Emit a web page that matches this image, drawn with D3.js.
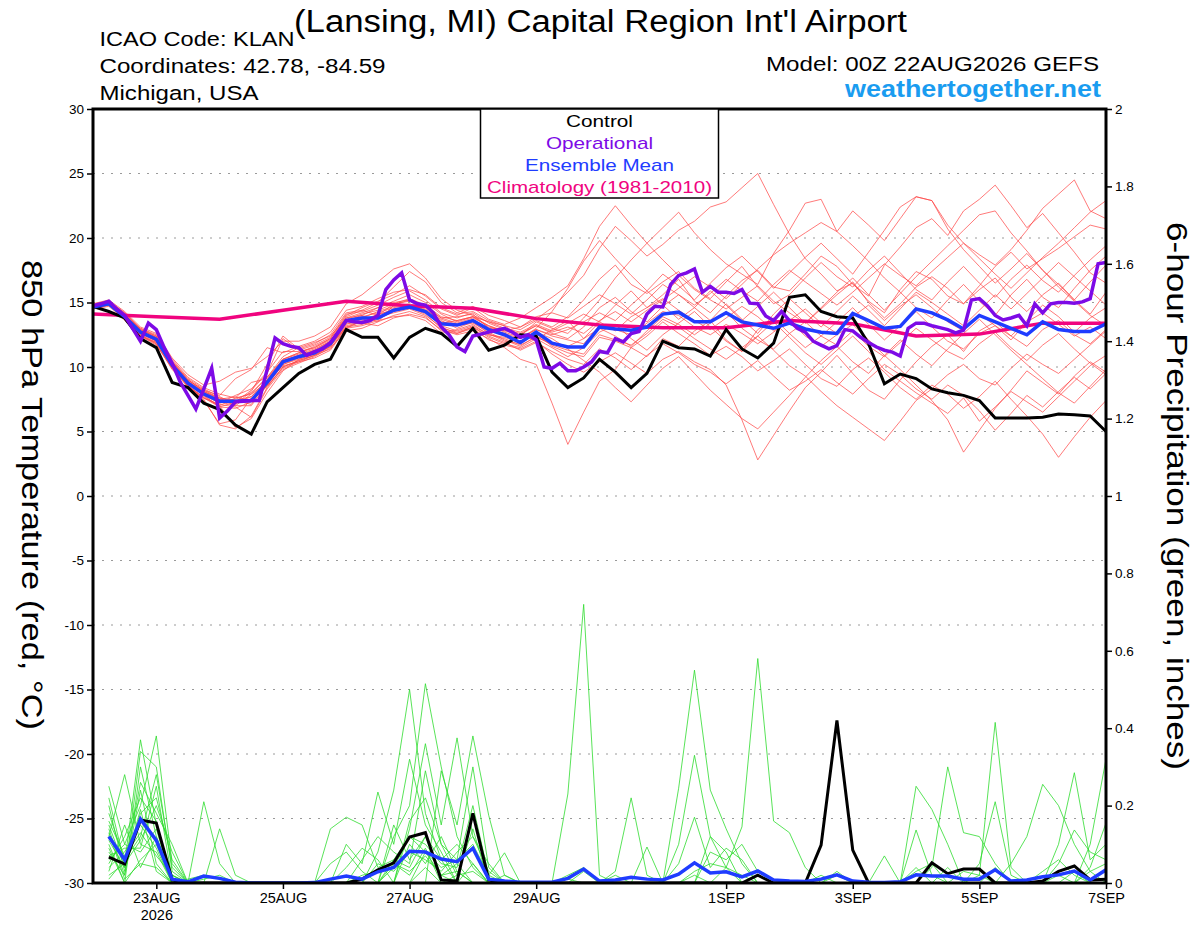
<!DOCTYPE html>
<html>
<head>
<meta charset="utf-8">
<script src="https://cdn.jsdelivr.net/npm/d3@7/dist/d3.min.js"></script>
<style>
  html, body { margin: 0; padding: 0; background: #fff; }
  svg { display: block; font-family: "Liberation Sans", Arial, Helvetica, sans-serif; }
</style>
</head>
<body>
<svg id="chart" width="1200" height="927"></svg>
<script>
// ---------------- DATA ----------------
const runStart = "2026-08-22T00:00:00Z";
const runEnd = "2026-09-07T00:00:00Z";
const tickDates = ["2026-08-23","2026-08-25","2026-08-27","2026-08-29","2026-09-01","2026-09-03","2026-09-05","2026-09-07"];
const tickLabels = ["23AUG","25AUG","27AUG","29AUG","1SEP","3SEP","5SEP","7SEP"];
const tempTicks = [-30,-25,-20,-15,-10,-5,0,5,10,15,20,25,30];
const precipTicks = [0,0.2,0.4,0.6,0.8,1,1.2,1.4,1.6,1.8,2];

// 6-hourly control 850 hPa temperature (degC), 22AUG00Z .. 7SEP00Z
const controlTemp = [14.7,14.3,13.8,12.2,11.5,8.8,8.4,7.2,6.7,5.5,4.8,7.3,8.4,9.5,10.2,10.6,12.9,12.3,12.3,10.7,12.3,13.0,12.6,11.6,13.0,11.3,11.7,12.5,12.4,9.6,8.4,9.15,10.6,9.6,8.4,9.5,12.0,11.5,11.4,10.85,12.9,11.4,10.7,11.85,15.4,15.6,14.3,13.9,13.8,11.8,8.7,9.45,9.1,8.3,8.0,7.8,7.4,6.05,6.05,6.05,6.1,6.35,6.3,6.2,5.0];

// 6-hourly ensemble mean temperature
const meanTemp = [14.65,14.9,13.9,12.7,12.15,10.15,8.75,7.9,7.35,7.35,7.4,8.8,10.4,10.8,11.1,11.8,13.6,13.8,13.8,14.4,14.65,14.3,13.35,13.25,13.6,12.9,12.5,11.9,12.7,11.85,11.55,11.55,13.1,12.95,12.85,13.1,14.1,14.25,13.5,13.5,14.2,13.5,13.25,13.0,13.4,12.95,12.7,12.6,14.15,13.6,13.0,13.15,14.5,14.2,13.65,12.95,14.0,13.5,13.0,12.5,13.5,12.9,12.75,12.75,13.35];

// 3-hourly operational temperature
const operTemp = [14.75,14.9,15.1,14.5,14.0,13.0,12.0,13.4,12.9,11.5,10.3,8.85,7.8,6.75,8.3,9.9,6.05,6.6,7.3,7.35,7.4,7.4,9.8,12.25,11.8,11.6,11.5,10.9,11.2,11.4,11.9,12.7,13.6,13.5,13.45,13.6,14.0,16.0,16.75,17.3,15.2,14.9,14.8,14.2,13.1,12.5,11.55,11.2,12.4,12.55,12.7,12.85,13.0,12.7,12.3,12.5,12.1,10.0,9.9,10.3,9.7,9.7,10.0,10.4,11.2,11.1,12.2,11.95,12.6,12.75,14.1,14.7,14.65,16.4,17.1,17.3,17.6,15.8,16.25,15.8,15.8,15.7,16.0,14.95,14.9,13.95,13.6,14.3,13.6,13.0,12.7,12.0,11.7,11.4,11.65,12.9,12.8,12.3,11.9,11.55,11.3,11.15,10.85,13.0,13.4,13.4,13.2,13.05,12.9,12.65,12.85,15.2,15.3,14.75,14.0,13.65,13.8,14.0,13.2,14.9,14.2,14.9,15.0,15.0,14.95,15.05,15.3,18.0,18.1];

// daily climatology (1981-2010), 00Z each day 22AUG .. 7SEP
const climTemp = [14.1,13.9,13.7,14.4,15.1,14.75,14.55,13.75,13.25,13.05,13.05,13.6,13.35,12.4,12.55,13.4,13.4];

// 6-hourly ensemble member temperatures
const memberTemps = [
 [14.8,15.1,14.2,12.9,12.4,10.4,9.0,8.2,7.6,7.0,7.9,9.2,10.8,11.5,11.9,12.4,13.8,14.2,14.6,15.1,15.6,15.0,14.1,13.5,13.9,13.2,12.8,13.1,13.7,14.6,15.8,17.1,19.2,20.9,19.8,18.6,19.5,20.6,21.3,22.4,22.8,23.9,25.0,22.6,20.3,18.4,17.2,15.9,16.5,15.1,14.2,16.0,17.4,16.8,15.5,14.9,16.3,17.8,18.9,17.6,18.4,19.2,20.1,21.0,20.7],
 [14.6,14.8,13.8,12.5,11.8,9.8,8.6,7.4,5.6,5.9,7.6,8.5,9.9,10.4,10.9,11.6,13.2,13.5,13.9,14.2,14.5,14.0,13.1,12.6,13.0,12.1,11.7,11.4,12.0,11.0,10.2,9.6,10.4,11.1,10.3,9.5,10.6,11.2,10.4,9.8,8.6,5.9,2.8,4.7,6.6,8.4,9.6,10.9,9.5,8.2,7.5,9.0,10.4,11.6,12.5,11.2,12.8,13.5,12.4,11.6,12.9,13.6,12.5,11.8,12.9],
 [14.7,15.0,14.0,12.8,12.0,10.0,8.8,8.0,7.2,7.8,8.3,9.6,11.2,11.2,11.5,12.1,13.6,14.0,13.5,14.8,15.2,14.6,13.8,13.9,14.1,13.0,12.9,12.4,12.1,12.9,13.6,12.2,13.5,14.8,15.9,14.6,15.6,16.8,15.1,14.2,15.5,16.7,17.5,16.2,15.9,17.2,18.6,17.8,16.4,15.5,17.9,19.3,20.8,21.5,20.2,22.1,23.0,24.1,22.5,20.8,21.9,20.4,18.9,17.3,16.5],
 [14.5,14.9,13.6,12.4,11.9,10.2,8.5,7.7,7.0,5.3,6.0,8.0,9.7,10.6,11.0,11.8,13.0,13.6,14.1,14.4,14.8,14.5,13.6,13.0,13.5,12.6,12.0,11.8,12.6,11.6,11.1,10.8,12.3,12.0,11.5,12.4,13.5,12.6,11.8,10.9,11.6,10.8,9.7,10.5,11.4,10.2,9.1,8.5,9.8,10.7,9.6,8.4,7.5,8.6,7.9,6.8,7.7,8.9,7.5,6.2,4.8,3.0,4.6,6.1,7.4],
 [14.8,15.0,14.1,12.6,12.2,10.3,8.9,8.1,7.6,7.4,7.1,8.9,10.4,10.9,11.3,12.0,13.9,14.4,14.0,14.9,15.1,14.7,13.4,13.6,13.9,13.5,13.2,12.4,13.5,13.0,12.6,13.8,15.2,16.9,18.3,19.6,20.8,22.0,20.4,19.1,18.0,17.2,16.4,18.8,20.6,22.7,23.0,20.5,19.4,18.2,16.9,15.8,14.6,13.8,15.2,16.4,15.1,14.0,15.6,16.8,15.4,14.6,16.1,17.5,18.6],
 [14.6,14.9,13.9,12.7,12.1,10.0,8.7,7.8,6.9,7.3,7.5,8.6,10.2,10.7,11.2,11.7,13.4,13.4,13.2,13.8,14.1,13.8,12.9,12.5,12.8,12.2,11.5,10.6,10.2,7.2,4.0,6.5,8.9,9.8,11.5,10.8,12.2,11.6,12.8,13.6,12.1,11.2,12.9,13.8,12.6,11.5,12.4,13.5,14.6,13.3,12.1,13.2,14.3,13.1,12.0,11.4,12.6,13.2,12.1,13.5,14.2,13.3,12.4,13.1,12.2],
 [14.9,15.1,14.0,13.0,12.5,10.6,9.2,8.4,7.9,7.6,8.8,9.1,10.6,11.1,11.6,12.2,14.0,14.6,15.1,15.6,16.3,15.5,14.5,14.0,14.6,13.7,13.3,13.8,14.6,15.4,16.3,18.4,20.9,22.5,21.0,19.6,18.3,17.1,16.0,15.2,14.5,15.4,16.3,15.1,14.2,13.4,14.5,15.6,16.6,15.0,13.8,14.9,16.2,17.0,16.1,14.9,16.0,16.9,15.4,14.3,15.6,16.5,15.2,14.1,15.8],
 [14.5,14.7,13.7,12.4,11.7,9.9,8.4,7.5,5.5,5.2,6.2,8.4,10.0,10.5,10.9,11.4,13.1,13.3,13.7,14.3,14.6,14.2,13.3,13.2,13.4,12.7,12.1,11.6,12.4,11.7,11.3,11.0,12.5,12.1,11.7,12.6,13.7,13.1,12.2,11.4,10.6,11.5,12.4,11.3,10.1,9.3,8.1,7.0,6.1,5.2,4.3,5.8,7.4,8.3,9.4,10.2,9.1,8.6,9.9,11.0,10.2,9.5,10.6,11.7,12.8],
 [14.7,15.0,14.0,12.8,12.3,10.2,8.8,8.1,7.5,7.7,7.3,8.7,10.3,10.8,11.1,11.9,13.5,13.8,14.3,14.7,14.9,14.4,13.7,13.3,13.7,13.0,12.6,12.2,12.9,12.4,12.1,11.8,13.2,12.9,12.5,13.4,14.3,14.0,13.1,12.5,13.3,12.6,11.8,12.7,13.6,12.4,11.6,12.5,13.3,12.1,10.9,9.8,8.6,7.4,5.9,3.4,5.1,6.8,8.2,9.7,8.8,7.9,9.3,10.4,9.6],
 [14.8,15.0,14.1,12.9,12.3,10.5,9.1,8.3,7.7,7.1,8.1,10.2,12.4,11.4,11.8,12.5,14.2,14.4,15.0,16.2,17.4,16.6,15.0,14.2,14.7,14.0,13.6,13.1,13.9,14.2,13.8,14.7,15.6,14.9,14.1,15.2,16.4,15.6,14.8,15.7,16.8,15.9,15.1,16.4,17.5,16.6,15.7,14.8,15.8,16.9,18.0,17.1,16.3,17.4,18.5,19.6,18.7,17.9,19.1,20.6,22.3,23.4,24.5,22.1,21.5],
 [14.9,15.2,14.3,13.1,12.6,10.7,9.4,8.6,8.9,9.6,9.9,10.8,12.0,12.0,12.4,13.1,14.9,15.6,16.6,17.6,18.0,16.9,15.3,14.4,14.0,13.5,13.0,12.7,13.3,12.8,13.4,14.1,13.5,12.8,13.9,14.6,15.3,14.4,13.6,12.9,13.8,14.7,13.9,12.8,13.6,14.5,13.4,12.6,13.9,14.8,13.6,14.7,15.6,14.6,13.5,12.8,14.1,13.2,12.4,13.6,14.8,13.9,12.7,13.8,14.6],
 [14.6,14.8,13.8,12.6,12.0,10.1,8.6,7.6,7.1,6.9,6.1,8.3,9.8,10.3,10.8,11.5,12.8,13.0,13.5,14.0,14.3,13.9,12.8,12.6,13.1,12.4,11.9,11.3,11.9,11.2,10.6,10.2,11.4,10.7,9.8,10.9,11.8,11.1,10.2,9.6,8.7,9.6,10.5,9.3,8.2,8.9,9.8,8.8,7.9,9.1,10.2,9.4,8.3,7.5,8.6,7.8,6.6,5.1,6.4,7.8,6.9,8.1,9.2,8.3,9.5],
 [14.7,15.0,14.0,12.7,12.2,10.3,8.9,8.0,7.4,7.2,7.7,9.0,10.6,11.0,11.4,12.0,13.7,14.1,14.4,14.9,15.3,14.8,13.9,13.6,13.9,13.1,12.8,12.5,13.2,12.7,13.1,12.6,13.6,14.3,13.5,14.4,15.2,16.1,17.0,16.2,15.3,16.4,17.6,18.7,19.6,20.4,21.2,20.5,22.1,21.0,19.8,21.5,23.2,22.9,21.0,19.6,18.4,17.2,16.1,17.3,18.5,19.6,20.8,22.0,22.9],
 [14.5,14.8,13.7,12.5,11.9,10.0,8.5,7.6,7.0,7.6,7.9,8.8,10.1,10.4,10.7,11.3,13.0,13.2,13.6,13.9,14.0,13.6,12.6,12.9,13.3,12.5,12.2,11.7,12.3,11.8,11.6,12.2,13.0,12.4,11.6,12.8,13.9,13.3,12.5,13.4,14.3,13.0,12.1,11.4,12.6,13.5,12.4,11.7,12.8,11.6,10.8,11.9,13.0,12.1,11.2,10.6,11.8,12.7,11.5,10.5,11.7,12.6,11.4,10.3,9.4],
 [14.8,15.1,14.2,13.0,12.4,10.4,9.0,8.2,7.8,9.1,9.8,11.5,11.1,11.6,12.0,12.7,14.4,14.7,15.3,15.8,16.0,15.6,14.6,14.1,14.3,13.6,13.2,12.9,13.6,13.1,13.9,15.2,16.8,17.9,16.4,15.7,16.6,17.4,16.1,15.3,16.6,17.8,16.2,14.9,15.6,16.9,18.1,17.0,16.2,17.5,18.6,17.3,16.0,15.2,16.6,17.8,16.5,15.4,16.8,17.9,16.7,15.8,17.1,18.3,19.4],
 [14.6,14.9,13.9,12.6,12.0,10.0,8.7,7.9,7.3,7.0,7.0,8.6,10.2,10.6,11.0,11.6,13.3,13.7,14.0,14.5,14.7,14.3,13.2,12.8,13.2,12.5,12.3,11.9,12.7,12.2,11.4,10.5,9.6,8.4,7.3,8.6,9.9,10.8,9.5,8.2,7.1,6.0,5.2,6.5,7.8,9.2,10.5,11.6,10.4,9.5,10.9,12.1,11.0,10.1,11.4,12.6,13.7,12.5,11.3,10.2,9.1,8.0,7.2,8.5,9.8],
 [14.7,15.0,14.1,12.8,12.2,10.2,8.8,8.0,7.4,7.5,8.0,9.2,10.6,11.1,11.5,12.2,13.8,14.0,14.6,15.0,15.2,14.7,13.8,13.4,13.8,13.2,12.7,12.3,12.9,12.5,12.9,13.5,14.2,13.6,14.8,15.9,17.2,16.3,15.2,16.5,17.7,18.6,17.4,16.1,17.3,18.5,19.6,18.4,17.2,18.9,20.6,22.4,23.2,22.9,20.7,19.1,17.8,16.5,17.6,18.8,17.5,16.4,15.2,16.6,17.9],
 [14.6,14.8,13.8,12.4,11.8,9.9,8.5,7.6,6.9,6.8,7.3,8.5,10.0,10.5,10.9,11.6,13.1,13.5,13.9,14.4,14.6,14.1,13.0,12.7,13.1,12.3,11.8,11.5,12.2,11.5,10.8,11.5,12.7,13.3,12.2,11.3,12.5,13.4,14.3,13.1,12.0,11.2,12.4,13.5,12.3,11.1,10.2,11.3,12.4,11.2,9.8,8.9,8.0,7.2,6.4,7.6,5.8,6.9,8.1,7.3,6.5,7.7,8.9,10.1,10.9],
 [14.8,15.1,14.0,12.9,12.3,10.4,9.0,8.1,7.5,7.3,8.2,9.5,12.2,11.3,11.7,12.3,14.1,14.3,14.8,15.4,15.9,15.2,14.2,13.8,14.2,13.4,12.9,12.6,13.2,12.6,12.2,13.1,14.6,15.4,14.3,13.5,14.7,15.6,14.6,13.6,14.9,13.7,12.6,14.1,15.3,14.2,13.1,14.3,15.5,14.4,13.2,14.5,15.8,15.0,14.1,13.2,14.4,15.6,14.5,15.7,16.9,18.1,17.0,15.9,14.8],
 [14.7,15.0,14.1,12.8,12.1,10.1,8.7,7.8,7.2,7.4,7.7,9.0,10.5,10.9,11.3,11.9,13.6,13.9,14.2,14.6,14.8,14.4,13.5,13.3,13.6,12.9,12.4,12.2,13.0,14.3,16.1,18.2,19.8,18.4,17.1,15.9,14.8,13.7,14.6,15.9,14.8,13.6,14.7,15.8,14.6,13.4,14.6,15.8,16.9,15.6,14.4,15.7,17.0,18.2,19.4,20.6,21.8,22.1,20.4,19.0,17.5,16.2,15.1,14.0,13.2]
];

// 6-hourly precipitation (inches), 22AUG06Z .. 7SEP00Z
const controlPrecip = [0.067,0.049,0.163,0.155,0.008,0,0,0, 0,0,0,0,0,0,0,0, 0.01,0.034,0.052,0.119,0.13,0.008,0.005,0.18, 0.008,0,0,0,0,0,0,0, 0,0,0,0,0,0,0,0, 0,0.02,0,0,0,0.098,0.42,0.085, 0,0,0,0,0.052,0.024,0.036,0.036, 0,0,0,0.005,0.03,0.044,0.008,0.01];
const meanPrecip = [0.12,0.06,0.165,0.11,0.01,0.003,0.018,0.012, 0.002,0,0,0,0,0.001,0.01,0.018, 0.01,0.029,0.04,0.082,0.08,0.062,0.055,0.09, 0.01,0.005,0.002,0.002,0.002,0.012,0.036,0.005, 0.008,0.015,0.01,0.008,0.023,0.052,0.026,0.029, 0.016,0.031,0.008,0.005,0.004,0.01,0.021,0.005, 0.002,0.001,0.003,0.021,0.018,0.018,0.01,0.01, 0.034,0.005,0.008,0.016,0.021,0.031,0.008,0.034];
const memberPrecips = [
 [.25,.10,.20,.38,.05,0,0,0, 0,0,0,0,0,0,.14,.17, .15,.04,.06,.12,.08,.02,0,0, 0,0,0,0,0,.23,.72,.02, 0,0,0,0,0,.02,0,0, 0,0,0,0,0,0,0,0, 0,0,0,0,0,0,0,0, 0,0,0,0,.02,0,0,0],
 [.22,.05,.37,.15,.02,0,0,0, 0,0,0,0,0,0,0,0, 0,.08,.24,.50,.18,.06,.10,.05, 0,0,0,0,0,0,.03,0, 0,0,.093,0,0,0,0,0, 0,0,0,0,0,0,.02,0, 0,0,0,0,0,0,0,0, 0,0,0,0,0,0,.03,.05],
 [.12,.28,.10,.08,0,0,0,0, 0,0,0,0,0,0,0,0, 0,0,.12,.20,.515,.30,.12,.04, 0,0,0,0,0,0,0,0, 0,0,0,0,.245,.55,.24,.14, .05,0,0,0,0,0,0,0, 0,0,0,0,0,0,0,0, 0,0,0,0,0,0,0,0],
 [.08,.02,.34,.30,.03,0,.21,.05, 0,0,0,0,0,0,0,.10, .05,.235,.10,.32,.15,.08,0,0, 0,0,0,0,0,0,0,0, 0,0,0,0,.10,.33,.12,.08, 0,0,0,0,0,0,0,0, 0,.07,0,0,0,0,0,0, 0,0,0,0,0,0,0,0],
 [.15,.04,.26,.18,.10,0,0,0, 0,0,0,0,0,0,0,0, 0,0,0,.14,.36,.15,.375,.12, .03,0,0,0,0,0,0,0, 0,0,0,0,.05,.17,.04,.09, .06,0,0,0,0,0,0,0, 0,0,0,.137,.02,0,0,0, 0,0,0,0,0,0,0,0],
 [.05,.12,.22,.16,0,0,0,0, 0,0,0,0,0,0,0,0, 0,0,0,0,0,.29,.15,.38, .175,.02,0,0,0,0,0,0, 0,0,0,0,0,0,.12,.04, .145,.58,.16,.13,.04,0,0,0, 0,0,0,0,0,0,0,0, 0,0,0,0,0,0,0,0],
 [.18,.06,.12,.28,.04,0,0,.14, .02,0,0,0,0,0,0,0, .06,.12,.08,.05,.29,.10,.06,.30, .04,0,0,0,0,0,0,0, 0,0,0,0,0,0,.08,.06, .10,.03,0,0,0,0,0,0, 0,0,0,.25,.19,.10,0,0, 0,0,0,0,0,0,0,0],
 [.10,0,.30,.12,.02,0,0,0, 0,0,0,0,0,0,.05,.08, .03,0,.04,.12,.10,.05,.04,.20, .02,.078,0,0,0,0,0,0, 0,0,0,0,0,0,0,.04, .02,0,0,0,0,0,0,0, 0,0,0,0,.04,.30,.13,.12, .05,0,0,0,0,0,0,0],
 [.04,.08,.15,.09,0,0,0,0, 0,0,0,0,0,0,0,0, 0,.05,.03,.08,.06,.03,.08,.12, .05,0,0,0,0,.02,.04,0, .03,.22,.02,0,0,0,0,0, 0,0,0,0,0,0,0,0, 0,0,0,0,0,0,0,.02, .415,.04,0,0,0,0,0,0],
 [.20,.03,.18,.22,.06,0,0,0, 0,0,0,0,0,0,0,0, 0,0,.15,.06,.12,.02,.05,0, 0,0,0,0,0,0,0,0, 0,0,0,0,0,0,0,0, 0,0,0,0,0,0,0,0, 0,0,0,0,0,0,0,.05, .21,.02,0,0,0,0,0,0],
 [.06,.10,.08,.14,0,0,0,0, 0,0,0,0,0,0,0,0, 0,0,0,.16,.22,.10,.02,.14, 0,0,0,0,0,0,0,0, 0,0,0,0,0,0,0,0, 0,0,0,0,0,0,0,0, 0,0,0,0,0,0,0,0, 0,.05,.12,.255,.20,.10,.03,0],
 [.14,.02,.24,.05,0,.01,.02,.01, 0,0,0,0,0,0,0,.04, .09,.06,0,.10,.05,.12,.03,0, 0,0,0,0,0,0,0,0, 0,0,0,0,0,0,0,0, 0,0,0,0,0,0,0,0, 0,0,0,0,0,0,0,0, 0,0,0,0,.10,.285,.06,.10],
 [.02,.05,.11,.20,.08,0,0,0, 0,0,0,0,0,0,0,0, 0,0,0,0,.08,.04,.06,.10, .02,0,0,0,0,0,0,0, 0,0,0,0,0,0,0,0, 0,0,0,0,0,0,0,0, 0,0,0,0,0,0,0,0, 0,0,0,0,.05,.137,.08,.06],
 [.09,0,.06,.10,0,0,0,0, 0,0,0,0,0,0,0,0, 0,0,.06,.04,.12,.06,0,0, 0,0,0,0,0,0,0,0, 0,0,0,0,0,0,0,0, 0,0,0,0,0,0,0,0, 0,0,0,0,0,0,0,0, 0,0,0,0,0,0,.10,.32],
 [.16,.07,.13,.07,.02,0,0,0, 0,0,0,0,0,0,0,0, .02,.03,.05,.02,.09,0,0,.05, 0,.02,0,0,0,0,0,0, 0,0,0,0,0,0,0,0, 0,0,0,0,0,0,0,0, 0,0,0,0,0,0,0,0, 0,0,0,0,0,0,.04,.155],
 [.03,.15,.04,.12,0,0,0,0, 0,0,0,0,0,0,0,0, 0,0,0,0,0,0,0,0, 0,0,0,0,0,0,0,0, .02,0,0,0,0,.03,.05,.04, 0,0,0,0,0,0,0,0, 0,0,0,.03,.05,0,0,0, 0,0,0,0,0,0,0,0],
 [.11,.04,.19,.03,0,0,0,0, 0,0,0,0,0,0,0,0, 0,0,0,0,.04,0,.02,.03, 0,0,0,0,0,.01,0,0, 0,0,0,0,0,0,0,0, 0,0,0,0,0,0,.03,0, 0,0,0,.04,0,0,.03,.02, 0,0,0,0,0,0,0,0],
 [.07,.09,.09,.25,.01,0,0,0, 0,0,0,0,0,0,0,0, 0,0,0,0,0,0,0,0, 0,0,0,0,0,0,0,0, 0,0,0,0,0,0,0,0, 0,0,0,0,0,.02,0,0, 0,0,0,0,0,.04,0,0, .04,0,0,0,0,.03,0,0],
 [.13,.01,.05,.04,0,0,.01,.02, 0,0,0,0,0,0,0,0, 0,0,.05,.03,.07,.02,.03,0, 0,0,0,0,0,0,0,0, 0,0,0,0,0,0,0,0, 0,0,0,0,0,0,0,0, 0,0,0,0,0,0,0,0, 0,0,0,0,0,0,0,0],
 [.01,.06,.17,.11,0,0,0,0, 0,0,0,0,0,0,0,0, 0,0,0,0,0,0,0,0, 0,0,0,0,0,0,0,0, 0,0,0,0,0,0,0,0, 0,0,0,0,0,0,0,0, 0,0,0,0,0,0,0,0, 0,0,0,.03,.06,.02,0,0]
];

const legendItems = ["Control","Operational","Ensemble Mean","Climatology (1981-2010)"];
const colors = {
  member: "#ff4646", precip: "#2edc2e", control: "#000000",
  oper: "#7d0ae6", mean: "#1f3cff", clim: "#f0047f", site: "#1a9cf0"
};

// ---------------- LAYOUT ----------------
const M = { left: 93, right: 1106, top: 109, bottom: 883 };
const svg = d3.select("#chart");
const font = "'Liberation Sans', Arial, Helvetica, sans-serif";

const t0 = new Date(runStart), t1 = new Date(runEnd);
const HOUR = 3600 * 1000;
const x = d3.scaleUtc().domain([t0, t1]).range([M.left, M.right]);
const yT = d3.scaleLinear().domain([-30, 30]).range([M.bottom, M.top]);
const yP = d3.scaleLinear().domain([0, 2]).range([M.bottom, M.top]);

const t6 = i => new Date(+t0 + i * 6 * HOUR);
const t3 = i => new Date(+t0 + i * 3 * HOUR);
const t24 = i => new Date(+t0 + i * 24 * HOUR);

// clip
svg.append("defs").append("clipPath").attr("id", "plotclip")
  .append("rect").attr("x", M.left).attr("y", M.top)
  .attr("width", M.right - M.left).attr("height", M.bottom - M.top);

// grid
svg.append("g").selectAll("line")
  .data(tempTicks.filter(d => d > -30 && d < 30))
  .join("line")
  .attr("x1", M.left).attr("x2", M.right)
  .attr("y1", d => yT(d)).attr("y2", d => yT(d))
  .attr("stroke", "#9a9a9a").attr("stroke-width", 1)
  .attr("stroke-dasharray", "2,7");

const plot = svg.append("g").attr("clip-path", "url(#plotclip)");

const lineT6 = d3.line().x((d, i) => x(t6(i))).y(d => yT(d));
const lineT3 = d3.line().x((d, i) => x(t3(i))).y(d => yT(d));
const lineT24 = d3.line().x((d, i) => x(t24(i))).y(d => yT(d));
const lineP = d3.line().x((d, i) => x(t6(i + 1))).y(d => yP(d));

// members temperature
plot.append("g").selectAll("path").data(memberTemps).join("path")
  .attr("d", lineT6).attr("fill", "none")
  .attr("stroke", colors.member).attr("stroke-width", 0.8).attr("stroke-opacity", 0.9);

// members precip
plot.append("g").selectAll("path").data(memberPrecips).join("path")
  .attr("d", lineP).attr("fill", "none")
  .attr("stroke", colors.precip).attr("stroke-width", 0.8);

// climatology
plot.append("path").attr("d", lineT24(climTemp)).attr("fill", "none")
  .attr("stroke", colors.clim).attr("stroke-width", 3.5);

// control
plot.append("path").attr("d", lineT6(controlTemp)).attr("fill", "none")
  .attr("stroke", colors.control).attr("stroke-width", 3);
plot.append("path").attr("d", lineP(controlPrecip)).attr("fill", "none")
  .attr("stroke", colors.control).attr("stroke-width", 3);

// mean
plot.append("path").attr("d", lineT6(meanTemp)).attr("fill", "none")
  .attr("stroke", colors.mean).attr("stroke-width", 3.5);
plot.append("path").attr("d", lineP(meanPrecip)).attr("fill", "none")
  .attr("stroke", colors.mean).attr("stroke-width", 3.5);

// operational
plot.append("path").attr("d", lineT3(operTemp)).attr("fill", "none")
  .attr("stroke", colors.oper).attr("stroke-width", 3.5);

// axes
const axL = d3.axisLeft(yT).tickValues(tempTicks).tickSize(6).tickPadding(3).tickFormat(d => String(d));
const gL = svg.append("g").attr("transform", `translate(${M.left},0)`).call(axL);
const axR = d3.axisRight(yP).tickValues(precipTicks).tickSize(6).tickPadding(3)
  .tickFormat(d => String(+d.toFixed(1)));
const gR = svg.append("g").attr("transform", `translate(${M.right},0)`).call(axR);
const axB = d3.axisBottom(x).tickValues(tickDates.map(d => new Date(d + "T00:00:00Z")))
  .tickSize(6).tickPadding(4).tickFormat((d, i) => tickLabels[i]);
const gB = svg.append("g").attr("transform", `translate(0,${M.bottom})`).call(axB);

[gL, gR, gB].forEach(g => {
  g.select(".domain").remove();
  g.selectAll(".tick line").attr("stroke", "#000").attr("stroke-width", 1.5);
  g.selectAll(".tick text").attr("fill", "#000").style("font-family", font);
});
gL.selectAll(".tick text").style("font-size", "13.5px");
gR.selectAll(".tick text").style("font-size", "13.5px");
gB.selectAll(".tick text").style("font-size", "14.5px").attr("dy", null).attr("y", 20);
gB.select(".tick text").each(function () {
  d3.select(this).append("tspan").attr("x", 0).attr("dy", 17).text("2026");
});

// frame
svg.append("rect").attr("x", M.left).attr("y", M.top)
  .attr("width", M.right - M.left).attr("height", M.bottom - M.top)
  .attr("fill", "none").attr("stroke", "#000").attr("stroke-width", 3);

// legend
const lg = svg.append("g");
lg.append("rect").attr("x", 480.5).attr("y", M.top).attr("width", 238).attr("height", 89)
  .attr("fill", "#fff").attr("stroke", "#000").attr("stroke-width", 1.5);
const legColors = [colors.control, colors.oper, colors.mean, colors.clim];
const legWidths = [67, 107, 149, 225];
lg.selectAll("text").data(legendItems).join("text")
  .attr("x", 599.5).attr("y", (d, i) => 127 + i * 21.9)
  .attr("text-anchor", "middle").attr("fill", (d, i) => legColors[i])
  .attr("textLength", (d, i) => legWidths[i]).attr("lengthAdjust", "spacingAndGlyphs")
  .style("font-size", "17px").style("font-family", font).text(d => d);

// header texts
function txt(s, xx, yy, size, opts = {}) {
  const t = svg.append("text").attr("x", xx).attr("y", yy)
    .style("font-family", font).style("font-size", size + "px")
    .attr("fill", opts.fill || "#000").text(s);
  if (opts.anchor) t.attr("text-anchor", opts.anchor);
  if (opts.len) t.attr("textLength", opts.len).attr("lengthAdjust", "spacingAndGlyphs");
  if (opts.weight) t.style("font-weight", opts.weight);
  return t;
}
txt("(Lansing, MI) Capital Region Int'l Airport", 294, 32, 31, { len: 613 });
txt("ICAO Code: KLAN", 99.5, 46, 20.5, { len: 195 });
txt("Coordinates: 42.78, -84.59", 99.5, 73, 20.5, { len: 286 });
txt("Michigan, USA", 99.5, 100, 20.5, { len: 159 });
txt("Model: 00Z 22AUG2026 GEFS", 766, 71, 20.5, { len: 333 });
txt("weathertogether.net", 845, 97, 23.5, { len: 256, weight: "bold", fill: colors.site });

// axis titles (rotated, reading top to bottom)
svg.append("text").attr("transform", "translate(22,495) rotate(90)")
  .attr("text-anchor", "middle").style("font-family", font).style("font-size", "29px")
  .attr("textLength", 470).attr("lengthAdjust", "spacingAndGlyphs")
  .text("850 hPa Temperature (red, °C)");
svg.append("text").attr("transform", "translate(1167,496) rotate(90)")
  .attr("text-anchor", "middle").style("font-family", font).style("font-size", "29px")
  .attr("textLength", 548).attr("lengthAdjust", "spacingAndGlyphs")
  .text("6-hour Precipitation (green, inches)");
</script>
</body>
</html>
